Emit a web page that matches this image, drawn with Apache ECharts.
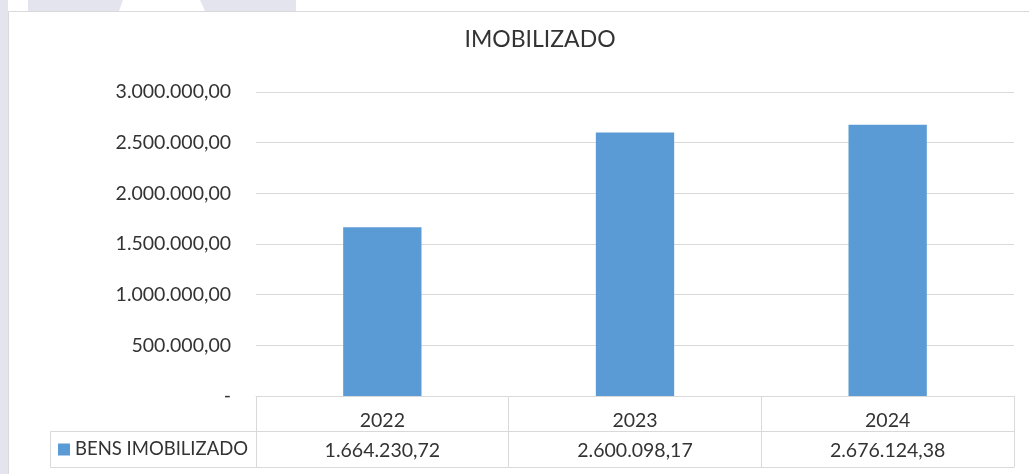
<!DOCTYPE html>
<html>
<head>
<meta charset="utf-8">
<script src="https://cdn.jsdelivr.net/npm/echarts@6/dist/echarts.min.js"></script>
<style>
    html, body { margin: 0; padding: 0; background: #fff; }
    #chart { width: 1029px; height: 474px; }
</style>
</head>
<body>
<div id="chart"></div>
<script>
var anos = ['2022', '2023', '2024'];
var valores = [1664230.72, 2600098.17, 2676124.38];
var serieNome = 'BENS IMOBILIZADO';
var titulo = 'IMOBILIZADO';

function fmt(v) {
    if (v === 0) return '-';
    var s = v.toFixed(2).split('.');
    return s[0].replace(/\B(?=(\d{3})+(?!\d))/g, '.') + ',' + s[1];
}

var fonte = 'Lato, "Open Sans", sans-serif';
var corTexto = '#333';
var corLinha = '#d9d9d9';
var lilas = '#e4e4ee';
var tam = 19.5;

var myChart = echarts.init(document.getElementById('chart'));

var option = {
    backgroundColor: '#fff',
    animation: false,
    textStyle: { fontFamily: fonte },
    title: {
        text: titulo,
        left: 535,
        textAlign: 'center',
        top: 23,
        textStyle: { fontFamily: fonte, fontSize: 23, fontWeight: 'normal', color: corTexto }
    },
    legend: {
        data: [serieNome],
        left: 58,
        top: 440,
        padding: 0,
        icon: 'rect',
        itemWidth: 12,
        itemHeight: 12,
        textStyle: { fontFamily: fonte, fontSize: 18.5, color: corTexto }
    },
    grid: { left: 256, right: 15, top: 92, bottom: 78 },
    xAxis: [{
        type: 'category',
        data: anos,
        position: 'bottom',
        axisLine: { show: true, lineStyle: { color: corLinha, width: 1 } },
        axisTick: { show: true, length: 35, lineStyle: { color: corLinha, width: 1 } },
        axisLabel: { fontFamily: fonte, fontSize: tam, color: corTexto, margin: 15 }
    }, {
        type: 'category',
        data: anos,
        position: 'bottom',
        offset: 35,
        axisLine: { show: true, lineStyle: { color: corLinha, width: 1 } },
        axisTick: { show: true, length: 36, lineStyle: { color: corLinha, width: 1 } },
        axisLabel: {
            fontFamily: fonte, fontSize: tam, color: corTexto, margin: 10,
            formatter: function (v, i) { return fmt(valores[i]); }
        }
    }, {
        type: 'category',
        data: anos,
        position: 'bottom',
        offset: 71,
        axisLine: { show: true, lineStyle: { color: corLinha, width: 1 } },
        axisTick: { show: false },
        axisLabel: { show: false }
    }],
    yAxis: {
        type: 'value',
        min: 0,
        max: 3000000,
        interval: 500000,
        axisLine: { show: false },
        axisTick: { show: false },
        splitLine: { lineStyle: { color: corLinha, width: 1 } },
        axisLabel: { fontFamily: fonte, fontSize: tam, color: corTexto, margin: 25, formatter: fmt }
    },
    series: [{
        name: serieNome,
        type: 'bar',
        data: valores,
        barWidth: '31%',
        itemStyle: { color: '#5b9bd5' }
    }],
    graphic: [
        // fundo lilas por tras do grafico
        { type: 'rect', z: -10, shape: { x: 0, y: 0, width: 8, height: 474 }, style: { fill: lilas } },
        { type: 'polygon', z: -10, shape: { points: [[28, 0], [123, 0], [119, 11], [28, 11]] }, style: { fill: lilas } },
        { type: 'polygon', z: -10, shape: { points: [[200, 0], [296, 0], [296, 11], [205, 11]] }, style: { fill: lilas } },
        // moldura do grafico
        { type: 'rect', z: -5, shape: { x: 8.5, y: 11.5, width: 1040, height: 480 }, style: { fill: '#fff', stroke: corLinha, lineWidth: 1 } },
        // celula da legenda na tabela
        { type: 'polyline', z: 5, shape: { points: [[256, 431.5], [50.5, 431.5], [50.5, 467.5], [256, 467.5]] }, style: { fill: null, stroke: corLinha, lineWidth: 1 } }
    ]
};
myChart.setOption(option);
</script>
</body>
</html>
